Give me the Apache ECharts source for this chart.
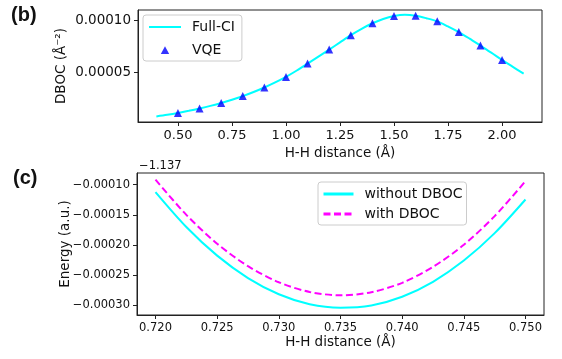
<!DOCTYPE html>
<html>
<head>
<meta charset="utf-8">
<script src="https://cdn.jsdelivr.net/npm/echarts@6/dist/echarts.min.js"></script>
<style>
html,body{margin:0;padding:0;background:#fff}
#main{width:562px;height:359px}
</style>
</head>
<body>
<div id="main"></div>
<script>
// panel (b): DBOC vs H-H distance
const fciDist = [0.40,0.45,0.50,0.55,0.60,0.65,0.70,0.75,0.80,0.85,0.90,0.95,1.00,1.05,1.10,1.15,1.20,1.25,1.30,1.35,1.40,1.45,1.50,1.55,1.60,1.65,1.70,1.75,1.80,1.85,1.90,1.95,2.00,2.05,2.10];
const fciDboc = [0.70e-5,0.85e-5,1.03e-5,1.24e-5,1.47e-5,1.72e-5,2.00e-5,2.32e-5,2.67e-5,3.07e-5,3.51e-5,4.00e-5,4.54e-5,5.16e-5,5.83e-5,6.51e-5,7.19e-5,7.89e-5,8.59e-5,9.21e-5,9.75e-5,10.17e-5,10.45e-5,10.57e-5,10.48e-5,10.24e-5,9.94e-5,9.44e-5,8.90e-5,8.26e-5,7.58e-5,6.90e-5,6.19e-5,5.52e-5,4.85e-5];
const vqeDist = [0.5,0.6,0.7,0.8,0.9,1.0,1.1,1.2,1.3,1.4,1.5,1.6,1.7,1.8,1.9,2.0];
const vqeDboc = [1.03e-5,1.47e-5,2.00e-5,2.67e-5,3.51e-5,4.54e-5,5.83e-5,7.19e-5,8.59e-5,9.75e-5,10.45e-5,10.48e-5,9.94e-5,8.90e-5,7.58e-5,6.19e-5];
const bXTicks = [0.50,0.75,1.00,1.25,1.50,1.75,2.00];
const bYTicks = [0.00005,0.00010];

// panel (c): energy (offset -1.137) near equilibrium
const pesDist = [0.7200,0.7225,0.7250,0.7275,0.7300,0.7325,0.7350,0.7375,0.7400,0.7425,0.7450,0.7475,0.7500];
const pesNoDboc = [-1.123e-4,-1.701e-4,-2.176e-4,-2.547e-4,-2.816e-4,-2.981e-4,-3.038e-4,-3.001e-4,-2.857e-4,-2.609e-4,-2.258e-4,-1.804e-4,-1.247e-4];
const pesWithDboc = [-0.917e-4,-1.501e-4,-1.979e-4,-2.351e-4,-2.617e-4,-2.778e-4,-2.833e-4,-2.782e-4,-2.626e-4,-2.363e-4,-1.996e-4,-1.522e-4,-0.942e-4];
const cXTicks = [0.720,0.725,0.730,0.735,0.740,0.745,0.750];
const cYTicks = [-0.00030,-0.00025,-0.00020,-0.00015,-0.00010];
const energyOffset = '\u22121.137';

const zip = (a, b) => a.map((v, i) => [v, b[i]]);
const FONT = 'DejaVu Sans';
const ink = '#111';
// small triangle centred in the 32x14 legend slot (tiny corner specks fix the box)
const legendTri = 'path://M0,0L0.05,0L0.05,0.05Z M32,14L31.95,14L31.95,13.95Z M11.8,11L20.2,11L16,3.3Z';

function valueAxis(o) {
  return Object.assign({
    type: 'value',
    splitLine: {show: false},
    axisLine: {show: true, lineStyle: {color: '#222', width: 1}},
    nameLocation: 'middle',
    nameMoveOverlap: false
  }, o);
}

const chart = echarts.init(document.getElementById('main'), null, {renderer: 'canvas'});
chart.setOption({
  animation: false,
  backgroundColor: '#fff',
  grid: [
    {left: 138, top: 10, width: 404, height: 112, show: true, borderColor: '#222', borderWidth: 1, containLabel: false},
    {left: 137, top: 173, width: 407, height: 142, show: true, borderColor: '#222', borderWidth: 1, containLabel: false}
  ],
  xAxis: [
    valueAxis({gridIndex: 0, min: 0.315, max: 2.185, name: 'H-H distance (\u00C5)', nameGap: 24,
      nameTextStyle: {fontFamily: FONT, color: ink, fontSize: 13.5},
      axisTick: {show: true, length: 4, lineStyle: {color: '#222'}, customValues: bXTicks},
      axisLabel: {customValues: bXTicks, fontFamily: FONT, fontSize: 13, color: ink, margin: 7,
        formatter: v => v.toFixed(2)}}),
    valueAxis({gridIndex: 1, min: 0.7185, max: 0.7515, name: 'H-H distance (\u00C5)', nameGap: 20,
      nameTextStyle: {fontFamily: FONT, color: ink, fontSize: 13.5},
      axisTick: {show: true, length: 4, lineStyle: {color: '#222'}, customValues: cXTicks},
      axisLabel: {customValues: cXTicks, fontFamily: FONT, fontSize: 11.5, color: ink, margin: 7,
        formatter: v => v.toFixed(3)}})
  ],
  yAxis: [
    valueAxis({gridIndex: 0, min: 1.55e-6, max: 1.104e-4, name: 'DBOC (\u00C5\u207B\u00B2)', nameGap: 70,
      nameTextStyle: {fontFamily: FONT, color: ink, fontSize: 13.5},
      axisTick: {show: true, length: 4, lineStyle: {color: '#222'}, customValues: bYTicks},
      axisLabel: {customValues: bYTicks, fontFamily: FONT, fontSize: 13.5, color: ink, margin: 7,
        formatter: v => v.toFixed(5)}}),
    valueAxis({gridIndex: 1, min: -3.159e-4, max: -0.808e-4, name: 'Energy (a.u.)', nameGap: 65,
      nameTextStyle: {fontFamily: FONT, color: ink, fontSize: 13.5},
      axisTick: {show: true, length: 4, lineStyle: {color: '#222'}, customValues: cYTicks},
      axisLabel: {customValues: cYTicks, fontFamily: FONT, fontSize: 11.5, color: ink, margin: 7,
        formatter: v => '\u2212' + Math.abs(v).toFixed(5)}})
  ],
  legend: [
    {
      data: [{name: 'Full-CI', itemStyle: {opacity: 0}}, {name: 'VQE', icon: legendTri}],
      orient: 'vertical', left: 143, top: 15,
      itemWidth: 32, itemHeight: 14, itemGap: 9,
      padding: [5, 7, 4, 5],
      borderColor: '#ccc', borderWidth: 1, borderRadius: 3, backgroundColor: 'rgba(255,255,255,0.8)',
      textStyle: {fontFamily: FONT, fontSize: 14, color: ink, padding: [0, 0, 0, 6]}
    },
    {
      data: [{name: 'without DBOC', itemStyle: {opacity: 0}}, {name: 'with DBOC', itemStyle: {opacity: 0}}],
      orient: 'vertical', left: 318, top: 182,
      itemWidth: 30, itemHeight: 14, itemGap: 6,
      padding: [5, 4, 4, 4],
      borderColor: '#ccc', borderWidth: 1, borderRadius: 3, backgroundColor: 'rgba(255,255,255,0.8)',
      lineStyle: {width: 3},
      textStyle: {fontFamily: FONT, fontSize: 14, color: ink, padding: [0, 0, 0, 6]}
    }
  ],
  graphic: [
    {type: 'text', left: 11, top: 5, style: {text: '(b)', font: 'bold 20px "Liberation Sans"', fill: '#111'}},
    {type: 'text', left: 13, top: 168, style: {text: '(c)', font: 'bold 20px "Liberation Sans"', fill: '#111'}},
    {type: 'text', left: 139, top: 160, style: {text: energyOffset, font: '11.5px "DejaVu Sans"', fill: ink}}
  ],
  series: [
    {name: 'Full-CI', type: 'line', xAxisIndex: 0, yAxisIndex: 0, data: zip(fciDist, fciDboc),
      symbol: 'none', smooth: 0.3, color: '#00ffff', lineStyle: {color: '#00ffff', width: 2}, z: 2},
    {name: 'VQE', type: 'scatter', xAxisIndex: 0, yAxisIndex: 0, data: zip(vqeDist, vqeDboc),
      symbol: 'triangle', symbolSize: 8, itemStyle: {color: '#0000ff'}, z: 3},
    {name: 'without DBOC', type: 'line', xAxisIndex: 1, yAxisIndex: 1, data: zip(pesDist, pesNoDboc),
      symbol: 'none', smooth: 0.3, color: '#00ffff', lineStyle: {color: '#00ffff', width: 2}},
    {name: 'with DBOC', type: 'line', xAxisIndex: 1, yAxisIndex: 1, data: zip(pesDist, pesWithDboc),
      symbol: 'none', smooth: 0.3, color: '#ff00ff', lineStyle: {color: '#ff00ff', width: 2, type: [7, 3.5]}}
  ]
});
</script>
</body>
</html>
